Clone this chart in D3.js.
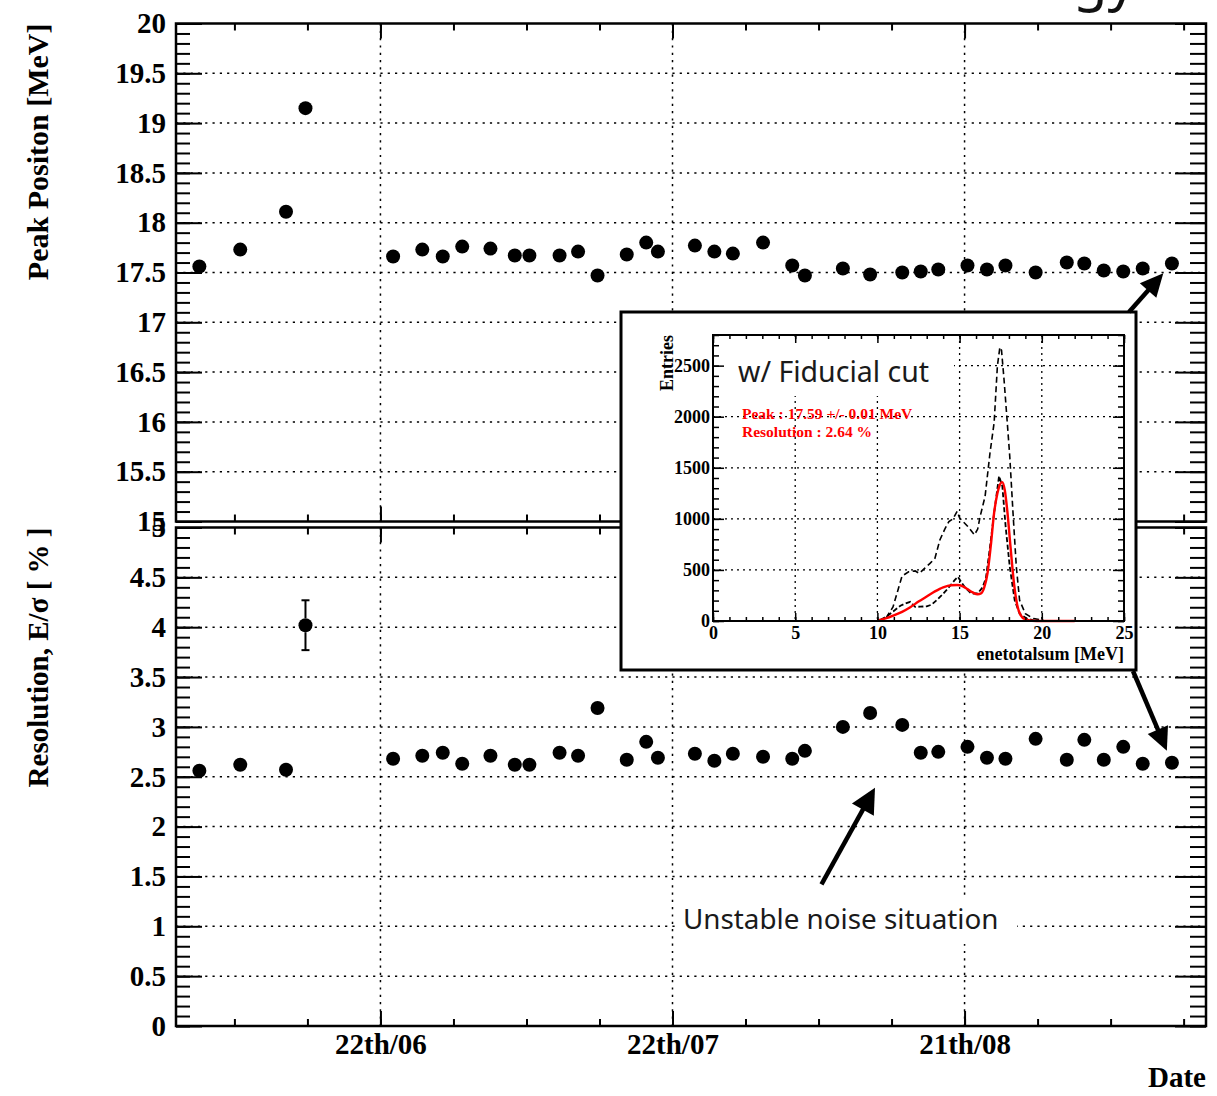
<!DOCTYPE html>
<html>
<head>
<meta charset="utf-8">
<script src="https://cdn.jsdelivr.net/npm/d3@7"></script>
<style>
  body { margin: 0; background: #fff; }
  svg { display: block; }
</style>
</head>
<body>
<svg id="chart" width="1217" height="1096"></svg>
<script>
// ---------------- data ----------------
// run day, counted from 1 June (22 Jun = day 21, 22 Jul = day 51, 21 Aug = day 81)
const runDays = [2.4, 6.6, 11.3, 13.3, 22.3, 25.3, 27.4, 29.4, 32.3, 34.8, 36.3, 39.4, 41.3,
  43.3, 46.3, 48.3, 49.5, 53.3, 55.3, 57.2, 60.3, 63.3, 64.6, 68.5, 71.3, 74.6, 76.5, 78.3,
  81.3, 83.3, 85.2, 88.3, 91.5, 93.3, 95.3, 97.3, 99.3, 102.3];

// fitted peak position [MeV]
const peakMeV = [17.56, 17.73, 18.11, 19.15, 17.66, 17.73, 17.66, 17.76, 17.74, 17.67, 17.67,
  17.67, 17.71, 17.47, 17.68, 17.80, 17.71, 17.77, 17.71, 17.69, 17.80, 17.57, 17.47, 17.54,
  17.48, 17.50, 17.51, 17.53, 17.57, 17.53, 17.57, 17.50, 17.60, 17.59, 17.52, 17.51, 17.54, 17.59];

// energy resolution [%] and its uncertainty
const resolution = [2.56, 2.62, 2.57, 4.02, 2.68, 2.71, 2.74, 2.63, 2.71, 2.62, 2.62, 2.74,
  2.71, 3.19, 2.67, 2.85, 2.69, 2.73, 2.66, 2.73, 2.70, 2.68, 2.76, 3.00, 3.14, 3.02, 2.74,
  2.75, 2.80, 2.69, 2.68, 2.88, 2.67, 2.87, 2.67, 2.80, 2.63, 2.64];
const resolutionErr = [0.03, 0.03, 0.03, 0.25, 0.03, 0.03, 0.03, 0.03, 0.03, 0.03, 0.03, 0.03,
  0.03, 0.03, 0.03, 0.03, 0.03, 0.03, 0.03, 0.03, 0.03, 0.03, 0.03, 0.03, 0.03, 0.03, 0.03,
  0.03, 0.03, 0.03, 0.03, 0.03, 0.03, 0.03, 0.03, 0.03, 0.03, 0.03];

// date axis
const dateTickDays = [21, 51, 81];
const dateTickLabels = ["22th/06", "22th/07", "21th/08"];

// last-run spectrum (enetotalsum)
const allMeV = [10.0, 10.5, 10.95, 11.3, 11.5, 11.9, 12.3, 12.55, 12.9, 13.2, 13.5, 13.8, 14.1,
  14.35, 14.6, 14.85, 15.0, 15.1, 15.5, 15.9, 16.1, 16.25, 16.55, 16.85, 17.1, 17.3, 17.45,
  17.55, 17.7, 17.9, 18.05, 18.25, 18.45, 18.65, 19.0, 19.5, 20.1];
const allCounts = [0, 23, 138, 330, 440, 482, 490, 466, 520, 564, 614, 794, 900, 974, 1000,
  1073, 1010, 991, 925, 843, 900, 1024, 1220, 1647, 1942, 2500, 2680, 2650, 2369, 1942, 1614,
  1056, 531, 203, 72, 23, 7];
const cutMeV = [10.2, 10.6, 11.05, 11.4, 11.7, 12.0, 12.3, 12.6, 13.0, 13.3, 13.6, 13.9, 14.2,
  14.5, 14.7, 14.9, 15.1, 15.3, 15.7, 16.1, 16.4, 16.6, 16.8, 17.1, 17.4, 17.6, 17.8, 18.05,
  18.35, 18.65, 19.1, 19.5];
const cutCounts = [13, 50, 105, 150, 171, 187, 138, 140, 144, 160, 203, 250, 302, 360, 400,
  433, 380, 335, 269, 269, 330, 420, 663, 1056, 1420, 1319, 925, 531, 203, 72, 23, 7];
const fitMeV = [10.0, 10.5, 11.0, 11.5, 12.0, 12.5, 13.0, 13.5, 14.0, 14.5, 14.85, 15.2, 15.5,
  15.8, 16.1, 16.3, 16.5, 16.7, 16.9, 17.1, 17.3, 17.45, 17.59, 17.75, 17.9, 18.1, 18.3, 18.5,
  18.7, 19.0, 19.4, 20.0, 21.0, 22.0];
const fitCounts = [5, 25, 55, 90, 135, 190, 240, 290, 330, 350, 352, 340, 310, 280, 262, 270,
  330, 470, 740, 1060, 1250, 1335, 1360, 1280, 1080, 720, 380, 160, 60, 15, 3, 0, 0, 0];

// ---------------- drawing ----------------
const SERIF = '"Liberation Serif","Times New Roman",serif';
const SANS = '"Noto Sans","DejaVu Sans",sans-serif';
const svg = d3.select("#chart");
svg.append("rect").attr("width", 1217).attr("height", 1096).attr("fill", "#fff");

// slide heading, mostly above the visible area
svg.append("text").attr("x", 1136).attr("y", -1).attr("text-anchor", "end")
  .attr("font-family", SANS).attr("font-size", 56).attr("fill", "#111").text("Energy");

const L = 176, R = 1206;
const x = d3.scaleLinear().domain([0, 105.8]).range([L, R]);
const yPeak = d3.scaleLinear().domain([15, 20]).range([521.5, 23.5]);
const yRes = d3.scaleLinear().domain([0, 5]).range([1026, 527.5]);

const minorDays = d3.range(6, 105, 7.5);
const DOT = "2.2,5.1";
const fmt = d => d3.format("~g")(d);
const LABEL_SIZE = 29;

function styleAxis(g, lw, fontSize) {
  g.select(".domain").remove();
  g.selectAll(".tick line").attr("stroke", "#000").attr("stroke-width", lw);
  g.selectAll("text").attr("font-family", SERIF).attr("font-weight", "bold")
    .attr("font-size", fontSize).attr("fill", "#000");
}

function panel(y, majors, minors, showDates) {
  const g = svg.append("g");
  const [b, t] = y.range();
  // dotted grid
  g.append("g").selectAll("line").data(majors.filter(v => v > y.domain()[0] && v < y.domain()[1]))
    .join("line").attr("x1", L).attr("x2", R).attr("y1", d => y(d)).attr("y2", d => y(d))
    .attr("stroke", "#000").attr("stroke-width", 1.5).attr("stroke-dasharray", DOT);
  g.append("g").selectAll("line").data(dateTickDays)
    .join("line").attr("x1", d => x(d)).attr("x2", d => x(d)).attr("y1", t).attr("y2", b)
    .attr("stroke", "#000").attr("stroke-width", 1.5).attr("stroke-dasharray", DOT);

  // y axes (left with labels, right ticks only)
  g.append("g").attr("transform", `translate(${L},0)`)
    .call(d3.axisLeft(y).tickValues(minors).tickSizeInner(-14).tickSizeOuter(0).tickFormat(""))
    .call(s => styleAxis(s, 2, LABEL_SIZE));
  g.append("g").attr("transform", `translate(${L},0)`)
    .call(d3.axisLeft(y).tickValues(majors).tickSizeInner(-26).tickSizeOuter(0).tickPadding(10).tickFormat(fmt))
    .call(s => styleAxis(s, 2, LABEL_SIZE));
  g.append("g").attr("transform", `translate(${R},0)`)
    .call(d3.axisRight(y).tickValues(minors).tickSizeInner(-16).tickSizeOuter(0).tickFormat(""))
    .call(s => styleAxis(s, 2, LABEL_SIZE));
  g.append("g").attr("transform", `translate(${R},0)`)
    .call(d3.axisRight(y).tickValues(majors).tickSizeInner(-31).tickSizeOuter(0).tickFormat(""))
    .call(s => styleAxis(s, 2, LABEL_SIZE));

  // date axes (top ticks, bottom ticks + optional labels)
  g.append("g").attr("transform", `translate(0,${t})`)
    .call(d3.axisTop(x).tickValues(minorDays).tickSizeInner(-7).tickSizeOuter(0).tickFormat(""))
    .call(s => styleAxis(s, 2, LABEL_SIZE));
  g.append("g").attr("transform", `translate(0,${t})`)
    .call(d3.axisTop(x).tickValues(dateTickDays).tickSizeInner(-15).tickSizeOuter(0).tickFormat(""))
    .call(s => styleAxis(s, 2, LABEL_SIZE));
  g.append("g").attr("transform", `translate(0,${b})`)
    .call(d3.axisBottom(x).tickValues(minorDays).tickSizeInner(-7).tickSizeOuter(0).tickFormat(""))
    .call(s => styleAxis(s, 2, LABEL_SIZE));
  g.append("g").attr("transform", `translate(0,${b})`)
    .call(d3.axisBottom(x).tickValues(dateTickDays).tickSizeInner(-15).tickSizeOuter(0).tickPadding(7)
      .tickFormat((d, i) => showDates ? dateTickLabels[i] : ""))
    .call(s => styleAxis(s, 2, LABEL_SIZE));

  g.append("rect").attr("x", L).attr("y", t).attr("width", R - L).attr("height", b - t)
    .attr("fill", "none").attr("stroke", "#000").attr("stroke-width", 2.5);
  return g;
}

const yMajorPeak = d3.range(15, 20.01, 0.5);
const yMinorPeak = d3.range(15, 20.01, 0.1);
const yMajorRes = d3.range(0, 5.01, 0.5);
const yMinorRes = d3.range(0, 5.01, 0.1);

const gTop = panel(yPeak, yMajorPeak, yMinorPeak, false);
const gBot = panel(yRes, yMajorRes, yMinorRes, true);

const RAD = 7;
gTop.append("g").selectAll("circle").data(runDays).join("circle")
  .attr("cx", d => x(d)).attr("cy", (d, i) => yPeak(peakMeV[i])).attr("r", RAD).attr("fill", "#000");

// error bars (only the part that sticks out of the marker)
const errG = gBot.append("g").attr("stroke", "#000").attr("stroke-width", 2);
runDays.forEach((d, i) => {
  const cx = x(d), cy = yRes(resolution[i]);
  const hi = yRes(resolution[i] + resolutionErr[i]), lo = yRes(resolution[i] - resolutionErr[i]);
  if (cy - hi > RAD) {
    errG.append("line").attr("x1", cx).attr("x2", cx).attr("y1", hi).attr("y2", cy - RAD);
    errG.append("line").attr("x1", cx).attr("x2", cx).attr("y1", cy + RAD).attr("y2", lo);
    errG.append("line").attr("x1", cx - 4).attr("x2", cx + 4).attr("y1", hi).attr("y2", hi);
    errG.append("line").attr("x1", cx - 4).attr("x2", cx + 4).attr("y1", lo).attr("y2", lo);
  }
});
gBot.append("g").selectAll("circle").data(runDays).join("circle")
  .attr("cx", d => x(d)).attr("cy", (d, i) => yRes(resolution[i])).attr("r", RAD).attr("fill", "#000");

// axis titles
svg.append("text").attr("transform", `translate(48,${yPeak(20)}) rotate(-90)`)
  .attr("text-anchor", "end").attr("font-family", SERIF).attr("font-weight", "bold")
  .attr("font-size", 30).text("Peak Positon [MeV]");
svg.append("text").attr("transform", `translate(48,${yRes(5)}) rotate(-90)`)
  .attr("text-anchor", "end").attr("font-family", SERIF).attr("font-weight", "bold")
  .attr("font-size", 29).text("Resolution, E/\u03c3 [ % ]");
svg.append("text").attr("x", R).attr("y", 1087).attr("text-anchor", "end")
  .attr("font-family", SERIF).attr("font-weight", "bold").attr("font-size", 29).text("Date");

// annotation text with its own white pad
svg.append("rect").attr("x", 676).attr("y", 896).attr("width", 341).attr("height", 48).attr("fill", "#fff");
svg.append("text").attr("x", 683).attr("y", 929).attr("font-family", SANS).attr("font-size", 27.8)
  .attr("fill", "#1a1a1a").text("Unstable noise situation");

// ---------------- inset: spectrum of the last run ----------------
const inset = svg.append("g");
const box = { x: 621, y: 312, w: 515, h: 358 };
inset.append("rect").attr("x", box.x).attr("y", box.y).attr("width", box.w).attr("height", box.h)
  .attr("fill", "#fff").attr("stroke", "#000").attr("stroke-width", 3);

const iL = 713, iR = 1124, iT = 335, iB = 621;
const ix = d3.scaleLinear().domain([0, 25]).range([iL, iR]);
const iy = d3.scaleLinear().domain([0, 2800]).range([iB, iT]);
const iDot = "2,4";

inset.append("g").selectAll("line").data([500, 1000, 1500, 2000, 2500]).join("line")
  .attr("x1", iL).attr("x2", iR).attr("y1", d => iy(d)).attr("y2", d => iy(d))
  .attr("stroke", "#000").attr("stroke-width", 1.3).attr("stroke-dasharray", iDot);
inset.append("g").selectAll("line").data([5, 10, 15, 20]).join("line")
  .attr("x1", d => ix(d)).attr("x2", d => ix(d)).attr("y1", iT).attr("y2", iB)
  .attr("stroke", "#000").attr("stroke-width", 1.3).attr("stroke-dasharray", iDot);

// label pad
inset.append("rect").attr("x", iL + 1).attr("y", 341).attr("width", 240).attr("height", 55).attr("fill", "#fff");
inset.append("text").attr("x", 738).attr("y", 382).attr("font-family", SANS).attr("font-size", 28.5)
  .attr("fill", "#1a1a1a").text("w/ Fiducial cut");

const spec = (xs, ys) => d3.line().x((d, i) => ix(xs[i])).y((d, i) => iy(ys[i]))(xs);
inset.append("path").attr("d", spec(allMeV, allCounts)).attr("fill", "none")
  .attr("stroke", "#000").attr("stroke-width", 1.6).attr("stroke-dasharray", "6,3.5");
inset.append("path").attr("d", spec(cutMeV, cutCounts)).attr("fill", "none")
  .attr("stroke", "#000").attr("stroke-width", 1.8).attr("stroke-dasharray", "5,2.5");
inset.append("path")
  .attr("d", d3.line().curve(d3.curveMonotoneX).x((d, i) => ix(fitMeV[i])).y((d, i) => iy(fitCounts[i]))(fitMeV))
  .attr("fill", "none").attr("stroke", "#ff0000").attr("stroke-width", 2.4);

function iAxis(gen, tx, ty, values, size, labels, pad) {
  inset.append("g").attr("transform", `translate(${tx},${ty})`)
    .call(gen.tickValues(values).tickSizeInner(-size).tickSizeOuter(0).tickPadding(pad || 3)
      .tickFormat(labels ? fmt : ""))
    .call(s => styleAxis(s, 1.5, 18));
}
iAxis(d3.axisLeft(iy), iL, 0, d3.range(0, 2801, 100), 6, false);
iAxis(d3.axisLeft(iy), iL, 0, d3.range(0, 2501, 500), 11, true, 3);
iAxis(d3.axisRight(iy), iR, 0, d3.range(0, 2801, 100), 6, false);
iAxis(d3.axisRight(iy), iR, 0, d3.range(0, 2501, 500), 11, false);
iAxis(d3.axisTop(ix), 0, iT, d3.range(0, 25.01, 1), 4, false);
iAxis(d3.axisTop(ix), 0, iT, d3.range(0, 25.01, 5), 8, false);
iAxis(d3.axisBottom(ix), 0, iB, d3.range(0, 25.01, 1), 4, false);
iAxis(d3.axisBottom(ix), 0, iB, d3.range(0, 25.01, 5), 8, true, 5);
inset.append("rect").attr("x", iL).attr("y", iT).attr("width", iR - iL).attr("height", iB - iT)
  .attr("fill", "none").attr("stroke", "#000").attr("stroke-width", 2);

inset.append("text").attr("transform", `translate(673,${iT}) rotate(-90)`).attr("text-anchor", "end")
  .attr("font-family", SERIF).attr("font-weight", "bold").attr("font-size", 18).text("Entries");
inset.append("text").attr("x", iR).attr("y", 660).attr("text-anchor", "end")
  .attr("font-family", SERIF).attr("font-weight", "bold").attr("font-size", 18).text("enetotalsum [MeV]");
const fitText = inset.append("g").attr("font-family", SERIF).attr("font-weight", "bold")
  .attr("font-size", 15.5).attr("fill", "#ff0000");
fitText.append("text").attr("x", 742).attr("y", 419).text("Peak : 17.59 +/- 0.01 MeV");
fitText.append("text").attr("x", 742).attr("y", 437).text("Resolution : 2.64 %");

// ---------------- arrows ----------------
function arrow(x1, y1, x2, y2, headLen, headW) {
  const dx = x2 - x1, dy = y2 - y1, len = Math.hypot(dx, dy);
  const ux = dx / len, uy = dy / len;
  const bx = x2 - ux * headLen, by = y2 - uy * headLen;
  svg.append("line").attr("x1", x1).attr("y1", y1).attr("x2", bx + ux * 2).attr("y2", by + uy * 2)
    .attr("stroke", "#000").attr("stroke-width", 4.5);
  svg.append("path").attr("fill", "#000")
    .attr("d", `M${x2},${y2}L${bx - uy * headW / 2},${by + ux * headW / 2}L${bx + uy * headW / 2},${by - ux * headW / 2}Z`);
}
function arrowToPoint(tx, ty, cx, cy) {
  const dx = cx - tx, dy = cy - ty, len = Math.hypot(dx, dy);
  const gap = RAD + 6;
  arrow(tx, ty, cx - dx / len * gap, cy - dy / len * gap, 23, 22);
}
const last = runDays.length - 1;
arrowToPoint(box.x + box.w - 7, box.y, x(runDays[last]), yPeak(peakMeV[last]));
arrowToPoint(box.x + box.w - 3, box.y + box.h + 1, x(runDays[last]), yRes(resolution[last]));
arrow(x(66.3), yRes(1.42), x(71.8), yRes(2.39), 25, 25);
</script>
</body>
</html>
